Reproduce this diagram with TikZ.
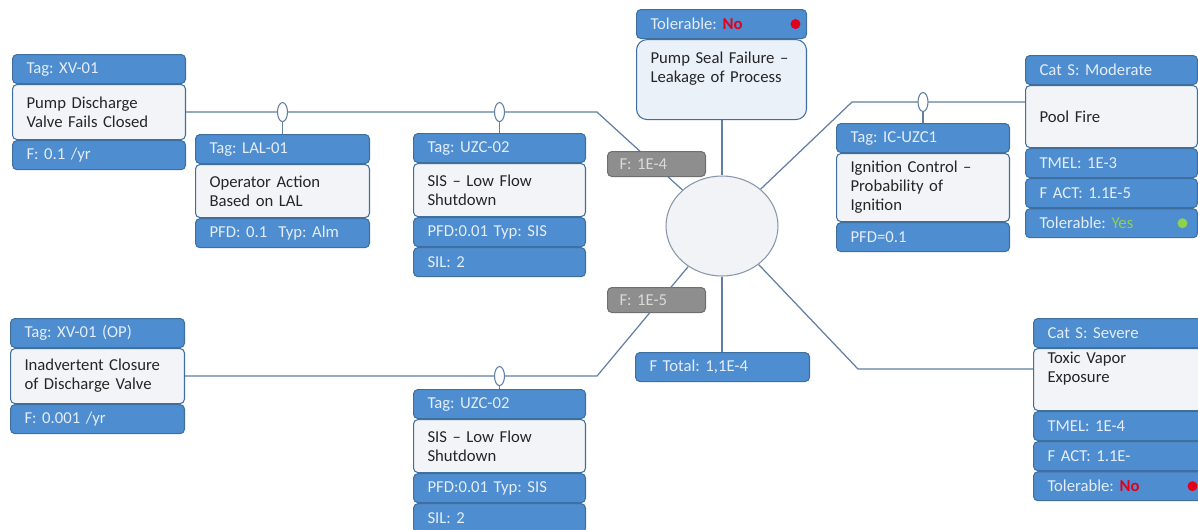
\documentclass[tikz,border=0pt]{standalone}
\usepackage{fontspec}
\setmainfont{Carlito}
\usepackage{xcolor}
\definecolor{tagblue}{HTML}{4E8DCF}
\definecolor{edge}{HTML}{3F6F9F}
\definecolor{pale}{HTML}{E4EDF8}
\definecolor{bodyfill}{HTML}{F2F4F7}
\definecolor{topfill}{HTML}{EAF1F9}
\definecolor{ink}{HTML}{262626}
\definecolor{wire}{HTML}{5F7FA3}
\definecolor{freqgrey}{HTML}{8E8E8E}
\definecolor{freqedge}{HTML}{6F6F6F}
\definecolor{freqtext}{HTML}{DADADA}
\definecolor{alarm}{HTML}{E3001B}
\definecolor{okgreen}{HTML}{8FD14F}
\definecolor{nodefill}{HTML}{F1F3F6}
\definecolor{nodeedge}{HTML}{8797A9}
\usepackage{tikz}
\usetikzlibrary{positioning,backgrounds,shapes.geometric}
\frenchspacing
\tikzset{
  every picture/.style={font=\fontsize{9.5}{10.8}\selectfont, line width=0.6pt},
  taghead/.style={draw=edge, fill=tagblue, text=pale, rounded corners=2.5pt, align=left, anchor=north west,
    inner xsep=0.28cm, inner ysep=0pt, text width=#1, minimum height=0.58cm},
  taghead/.default=2.9cm,
  tagbody/.style={taghead=#1, fill=bodyfill, text=ink, minimum height=1.1cm},
  tagbody/.default=2.9cm,
  tagfoot/.style={taghead=#1},
  tagfoot/.default=2.9cm,
  topbody/.style={tagbody=#1, fill=topfill, rounded corners=6pt, minimum height=1.6cm},
  topbody/.default=2.84cm,
  freq/.style={draw=freqedge, fill=freqgrey, text=freqtext, rounded corners=2.5pt, align=left, anchor=north west,
    inner xsep=0.24cm, inner ysep=0pt, text width=1.48cm, minimum height=0.5cm},
  event/.style={ellipse, draw=nodeedge, fill=nodefill, minimum width=2.24cm, minimum height=2cm},
  valve/.style={ellipse, draw=wire, fill=white, minimum width=0.2cm, minimum height=0.38cm, inner sep=0pt},
  lamp/.style={circle, fill=#1, minimum size=0.2cm, inner sep=0pt},
  wireline/.style={draw=wire, line width=0.7pt},
}

\begin{document}
\begin{tikzpicture}[x=0.02cm, y=-0.02cm]
  \useasboundingbox (0,0) rectangle (1198,529);
  % initiating causes
  \node[taghead] (xv-h) at (12,54) {Tag: XV-01};
  \node[tagbody, below=0pt of xv-h] (xv-b) {Pump Discharge\\Valve Fails Closed};
  \node[tagfoot, below=0pt of xv-b] (xv-f) {F: 0.1 /yr};
  \node[taghead=2.92cm] (xo-h) at (10,318) {Tag: XV-01 (OP)};
  \node[tagbody=2.92cm, below=0pt of xo-h] (xo-b) {Inadvertent Closure\\of Discharge Valve};
  \node[tagfoot=2.92cm, below=0pt of xo-b] (xo-f) {F: 0.001 /yr};
  % protection layers
  \node[taghead=2.92cm] (lal-h) at (195,134) {Tag: LAL-01};
  \node[tagbody=2.92cm, minimum height=1.06cm, below=0pt of lal-h] (lal-b) {Operator Action\\Based on LAL};
  \node[tagfoot=2.92cm, below=0pt of lal-b] (lal-f) {PFD: 0.1\ \ Typ: Alm};
  \node[taghead=2.88cm] (uzc-h) at (413,133) {Tag: UZC-02};
  \node[tagbody=2.88cm, minimum height=1.06cm, below=0pt of uzc-h] (uzc-b) {SIS -- Low Flow\\Shutdown};
  \node[tagfoot=2.88cm, below=0pt of uzc-b] (uzc-f1) {PFD:0.01 Typ: SIS};
  \node[tagfoot=2.88cm, below=0pt of uzc-f1] (uzc-f2) {SIL: 2};
  \node[taghead=2.88cm] (uzl-h) at (413,389) {Tag: UZC-02};
  \node[tagbody=2.88cm, minimum height=1.06cm, below=0pt of uzl-h] (uzl-b) {SIS -- Low Flow\\Shutdown};
  \node[tagfoot=2.88cm, below=0pt of uzl-b] (uzl-f1) {PFD:0.01 Typ: SIS};
  \node[tagfoot=2.88cm, below=0pt of uzl-f1] (uzl-f2) {SIL: 2};
  \node[taghead] (ic-h) at (836,123) {Tag: IC-UZC1};
  \node[tagbody, minimum height=1.36cm, below=0pt of ic-h] (ic-b) {Ignition Control --\\Probability of\\Ignition};
  \node[tagfoot, below=0pt of ic-b] (ic-f) {PFD=0.1};
  % hazardous event
  \node[taghead=2.84cm] (top-h) at (636,9) {Tolerable: \textcolor{alarm}{\textbf{No}}};
  \node[lamp=alarm, left=0.12cm of top-h.east] (top-lamp) {};
  \node[topbody, below=0pt of top-h] (top-b) {Pump Seal Failure --\\Leakage of Process\\\strut};
  \node[event] (ev) at (722,226) {};
  \node[freq] (f1) at (607,151) {F: 1E-4};
  \node[freq] (f2) at (607,287) {F: 1E-5};
  \node[taghead=2.92cm] (ft) at (635,352) {F Total: 1,1E-4};
  % consequences
  \node[taghead=2.88cm] (pf-h) at (1025,55) {Cat S: Moderate};
  \node[tagbody=2.88cm, minimum height=1.24cm, below=0pt of pf-h] (pf-b) {Pool Fire};
  \node[tagfoot=2.88cm, below=0pt of pf-b] (pf-f1) {TMEL: 1E-3};
  \node[tagfoot=2.88cm, below=0pt of pf-f1] (pf-f2) {F ACT: 1.1E-5};
  \node[tagfoot=2.88cm, below=0pt of pf-f2] (pf-f3) {Tolerable: \textcolor{okgreen}{Yes}};
  \node[lamp=okgreen, left=0.2cm of pf-f3.east] (pf-lamp) {};
  \node[taghead=2.88cm] (sv-h) at (1033,318) {Cat S: Severe};
  \node[tagbody=2.88cm, minimum height=1.24cm, below=0pt of sv-h] (sv-b) {Toxic Vapor\\Exposure\\\strut};
  \node[tagfoot=2.88cm, below=0pt of sv-b] (sv-f1) {TMEL: 1E-4};
  \node[tagfoot=2.88cm, below=0pt of sv-f1] (sv-f2) {F ACT: 1.1E-};
  \node[tagfoot=2.88cm, below=0pt of sv-f2] (sv-f3) {Tolerable: \textcolor{alarm}{\textbf{No}}};
  \node[lamp=alarm, left=0.16cm of sv-f3.east] (sv-lamp) {};
  % junctions and valves
  \coordinate (bend-nw) at (597,108);
  \coordinate (bend-sw) at (597,372);
  \coordinate (bend-ne) at (852,102);
  \coordinate (bend-se) at (858,369);
  \node[valve] (v-lal) at (lal-h.north |- xv-b.east) {};
  \node[valve] (v-uzc) at (uzc-h.north |- xv-b.east) {};
  \node[valve] (v-uzl) at (uzl-h.north |- xo-b.east) {};
  \node[valve] (v-ic) at (ic-h.north |- bend-ne) {};
  \begin{scope}[on background layer]
    \draw[wireline] (xv-b.east) -- (xv-b.east -| bend-nw) -- (ev);
    \draw[wireline] (xo-b.east) -- (xo-b.east -| bend-sw) -- (ev);
    \draw[wireline] (ev) -- (bend-ne) -- (bend-ne -| pf-b.west);
    \draw[wireline] (ev) -- (bend-se) -- (bend-se -| sv-b.west);
    \draw[wireline] (ev) -- (ev |- top-b.south);
    \draw[wireline] (ev) -- (ev |- ft.north);
    \foreach \vn/\bx in {v-lal/lal-h, v-uzc/uzc-h, v-uzl/uzl-h, v-ic/ic-h} \draw[wireline] (\vn) -- (\bx.north);
  \end{scope}
\end{tikzpicture}
\end{document}
